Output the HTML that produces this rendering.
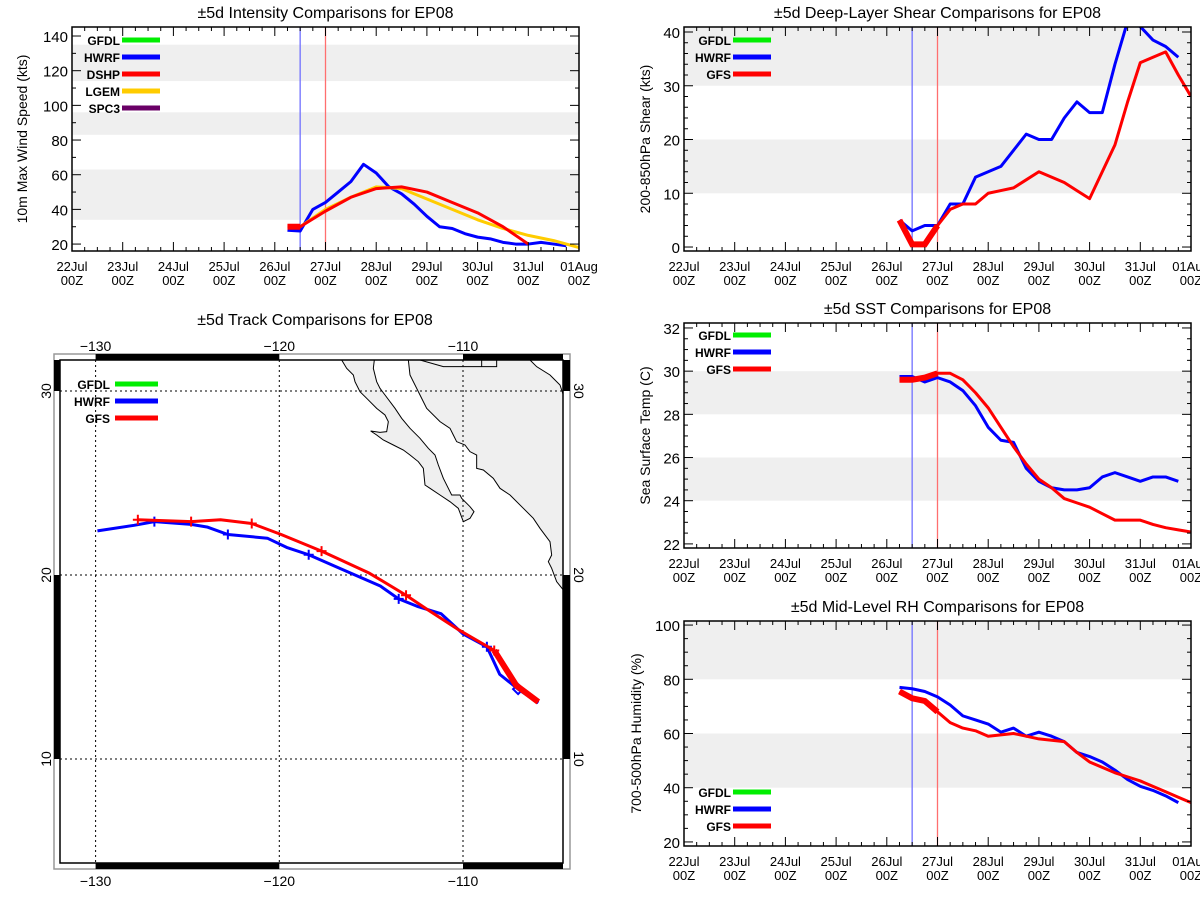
<!DOCTYPE html>
<html><head><meta charset="utf-8"><style>
body{margin:0;background:#fff;width:1200px;height:900px;overflow:hidden}
svg{position:absolute;left:0;top:0;font-family:"Liberation Sans",sans-serif}
</style></head><body>
<svg id="s" width="1200" height="900" viewBox="0 0 1200 900"></svg>
<script>
// ---------- data ----------
const dayLabels=["22Jul","23Jul","24Jul","25Jul","26Jul","27Jul","28Jul","29Jul","30Jul","31Jul","01Aug"];
const sixHourly=[4.25,4.5,4.75,5,5.25,5.5,5.75,6,6.25,6.5,6.75,7,7.25,7.5,7.75,8,8.25,8.5,8.75,9,9.25,9.5,9.75,10];
const intHwrf=[28,27.5,40,44,50,56,66,61,53,49,43,36,30,29,26,24,23,21,20,20,21,20,19];
const dshpTimes=[4.25,4.5,5,5.5,6,6.5,7,7.5,8,8.5,9];
const intDshp=[30,30,39,47,52,53,50,44,38,30,20];
const lgemTimes=[4.25,4.5,5,5.5,6,6.5,7,7.5,8,8.5,9,9.5,10];
const intLgem=[30,30,40,47,53,52,46,40,34,29,25,22,18];
const shearHwrf=[5,3,4,4,8,8,13,14,15,18,21,20,20,24,27,25,25,34,42,41,38.5,37.3,35.3];
const shearGfs=[5,0.5,0.5,4,7,8,8,10,10.5,11,12.5,14,13,12,10.5,9,14,19,27,34.3,35.3,36.3,32,28];
const sstHwrf=[29.75,29.75,29.5,29.7,29.5,29.1,28.4,27.4,26.8,26.7,25.5,24.9,24.6,24.5,24.5,24.6,25.1,25.3,25.1,24.9,25.1,25.1,24.9];
const sstGfs=[29.6,29.6,29.7,29.9,29.9,29.6,29.0,28.3,27.4,26.5,25.7,25.0,24.6,24.1,23.9,23.7,23.4,23.1,23.1,23.1,22.9,22.75,22.65,22.55];
const rhHwrf=[77,76.5,75.5,73.5,70.5,66.5,65,63.5,60.5,62,59,60.5,59,57,53,51.5,49.5,46.5,43,40.5,39,37,34.5];
const rhGfs=[75.5,73,72,68,64,62,61,59,59.5,60,59,58,57.5,57,53,49.5,47.5,45.5,44,42.5,40.5,38.5,36.5,34.5];
const trkHwrfLon=[-105.9,-107.0,-108.0,-108.7,-110,-111.2,-112.5,-113.5,-114.5,-116.8,-118.4,-119.6,-120.65,-122.8,-123.9,-124.8,-126.8,-127.9,-129.9];
const trkHwrfLat=[13.05,13.8,14.6,16.1,16.8,17.9,18.3,18.7,19.4,20.4,21.1,21.5,22.0,22.2,22.6,22.75,22.9,22.7,22.4];
const trkHwrfMarkLon=[-108.7,-113.5,-118.4,-122.8,-126.8];
const trkHwrfMarkLat=[16.1,18.7,21.1,22.2,22.9];
const trkGfsLon=[-105.9,-107.1,-108.3,-110.2,-111.9,-113.1,-115.1,-117.7,-119.9,-121.5,-123.2,-124.8,-127.7];
const trkGfsLat=[13.1,14.0,15.9,17.0,18.1,18.9,20.1,21.3,22.2,22.8,23.0,22.9,23.0];
const trkGfsMarkLon=[-108.3,-113.1,-117.7,-121.5,-124.8,-127.7];
const trkGfsMarkLat=[15.9,18.9,21.3,22.8,22.9,23.0];

const NS="http://www.w3.org/2000/svg";
const S=document.getElementById('s');
function mk(tag,attrs,parent){const e=document.createElementNS(NS,tag);for(const k in attrs)e.setAttribute(k,attrs[k]);(parent||S).appendChild(e);return e;}

function chart(c){
  const g=mk('g',{});
  
  
  const X=d=>c.x0+(c.x1-c.x0)*d/10;
  const Y=v=>c.y1-(v-c.vmin)/(c.vmax-c.vmin)*(c.y1-c.y0);
  c.bands.forEach(b=>{
    const top=Math.max(Y(b[1]),c.y0),bot=Math.min(Y(b[0]),c.y1);
    const r=mk('rect',{x:c.x0,y:top,width:c.x1-c.x0,height:bot-top,fill:'#efefef'},g);
    
    
  });
  const vb=mk('line',{x1:X(4.5),x2:X(4.5),y1:c.y0,y2:c.y1,stroke:'#6f6fff','stroke-width':1.3},g);
  
  
  const vr=mk('line',{x1:X(5),x2:X(5),y1:c.y0,y2:c.y1,stroke:'#ff6f6f','stroke-width':1.3},g);
  
  
  const cp=mk('clipPath',{id:'cp'+c.name},g);mk('rect',{x:c.x0,y:c.y0,width:c.x1-c.x0,height:c.y1-c.y0},cp);
  c.series.forEach(s=>{
    const pts=s.v.map((v,i)=>X(s.t[i])+','+Y(v)).join(' ');
    const p=mk('polyline',{points:pts,fill:'none',stroke:s.col,'stroke-width':3,'stroke-linejoin':'round','clip-path':'url(#cp'+c.name+')'},g);
    
    
    if(s.thick){const n=s.thick;const tp=s.v.slice(0,n).map((v,i)=>X(s.t[i])+','+Y(v)).join(' ');
      const q=mk('polyline',{points:tp,fill:'none',stroke:s.col,'stroke-width':6,'clip-path':'url(#cp'+c.name+')'},g);
      
      }
  });
  const fr=mk('rect',{x:c.x0,y:c.y0,width:c.x1-c.x0,height:c.y1-c.y0,fill:'none',stroke:'#000','stroke-width':1.5},g);
  
  
  for(let d=0;d<=10;d+=0.25){const maj=d%1===0;const L=maj?9:4;
    mk('line',{x1:X(d),x2:X(d),y1:c.y1,y2:c.y1-L,stroke:'#000'},g);
    mk('line',{x1:X(d),x2:X(d),y1:c.y0,y2:c.y0+L,stroke:'#000'},g);}
  dayLabels.forEach((l,i)=>{
    const t=mk('text',{x:X(i),y:c.y1+20,'text-anchor':'middle','font-size':13},g);t.textContent=l;
    
    
    const t2=mk('text',{x:X(i),y:c.y1+34,'text-anchor':'middle','font-size':13},g);t2.textContent='00Z';
    
    
  });
  for(let v=c.ymin;v<=c.ymax+1e-6;v+=c.minor){const maj=Math.abs((v-c.ymin)/c.step-Math.round((v-c.ymin)/c.step))<1e-6;const L=maj?9:4;
    mk('line',{x1:c.x0,x2:c.x0+L,y1:Y(v),y2:Y(v),stroke:'#000'},g);
    mk('line',{x1:c.x1,x2:c.x1-L,y1:Y(v),y2:Y(v),stroke:'#000'},g);
    if(maj){const t=mk('text',{x:c.x0-4,y:Y(v)+6,'text-anchor':'end','font-size':15},g);t.textContent=Math.round(v);
      
      }}
  const tt=mk('text',{x:(c.x0+c.x1)/2,y:c.y0-9,'text-anchor':'middle','font-size':16},g);tt.textContent=c.title;
  
  
  const yt=mk('text',{x:c.ytx,y:(c.y0+c.y1)/2,'text-anchor':'middle','font-size':14,transform:`rotate(-90 ${c.ytx} ${(c.y0+c.y1)/2})`},g);yt.textContent=c.ytitle;
  
  
  c.legend.forEach((l,i)=>{const y=c.ly+i*17;
    const t=mk('text',{x:c.lx,y:y+5,'text-anchor':'end','font-size':12,'font-weight':'bold'},g);t.textContent=l[0];
    
    
    const ln=mk('line',{x1:c.lx+2,x2:c.lx+40,y1:y,y2:y,stroke:l[1],'stroke-width':5},g);
    
    });
}
const G='#00ee00',B='#0000ff',R='#ff0000';
chart({name:'intensity-chart',x0:72,x1:579,y0:27,y1:251,vmin:16,vmax:145.2,ymin:20,ymax:140,step:20,minor:10,
  bands:[[34,63],[83,96],[114,135]],title:'±5d Intensity Comparisons for EP08',ytitle:'10m Max Wind Speed (kts)',ytx:27,
  series:[{id:'hwrf',t:sixHourly,v:intHwrf,col:B},{id:'lgem',t:lgemTimes,v:intLgem,col:'#ffcc00'},{id:'dshp',t:dshpTimes,v:intDshp,col:R,thick:2}],
  legend:[['GFDL',G],['HWRF',B],['DSHP',R],['LGEM','#ffcc00'],['SPC3','#6a0066']],lx:120,ly:40});
chart({name:'shear-chart',x0:684,x1:1191,y0:27,y1:251,vmin:-0.74,vmax:40.93,ymin:0,ymax:40,step:10,minor:2,
  bands:[[10,20],[30,45]],title:'±5d Deep-Layer Shear Comparisons for EP08',ytitle:'200-850hPa Shear (kts)',ytx:650,
  series:[{id:'hwrf',t:sixHourly,v:shearHwrf,col:B},{id:'gfs',t:sixHourly,v:shearGfs,col:R,thick:4}],
  legend:[['GFDL',G],['HWRF',B],['GFS',R]],lx:731,ly:40});
chart({name:'sst-chart',x0:684,x1:1191,y0:323,y1:548,vmin:21.81,vmax:32.23,ymin:22,ymax:32,step:2,minor:0.5,
  bands:[[24,26],[28,30]],title:'±5d SST Comparisons for EP08',ytitle:'Sea Surface Temp (C)',ytx:650,
  series:[{id:'hwrf',t:sixHourly,v:sstHwrf,col:B},{id:'gfs',t:sixHourly,v:sstGfs,col:R,thick:4}],
  legend:[['GFDL',G],['HWRF',B],['GFS',R]],lx:731,ly:335});
chart({name:'rh-chart',x0:684,x1:1191,y0:621,y1:846,vmin:18.5,vmax:101.5,ymin:20,ymax:100,step:20,minor:5,
  bands:[[40,60],[80,105]],title:'±5d Mid-Level RH Comparisons for EP08',ytitle:'700-500hPa Humidity (%)',ytx:641,
  series:[{id:'hwrf',t:sixHourly,v:rhHwrf,col:B},{id:'gfs',t:sixHourly,v:rhGfs,col:R,thick:4}],
  legend:[['GFDL',G],['HWRF',B],['GFS',R]],lx:731,ly:792});

// ---------- track map ----------
(function(){
  const g=mk('g',{});
  
  
  const LX=lon=>463+(lon+110)*18.37, LY=lat=>391-(lat-30)*18.4;
  const IX0=60,IX1=563,IY0=360,IY1=863,OX0=54,OX1=570,OY0=354,OY1=869;
  const cp=mk('clipPath',{id:'mapclip'},g);mk('rect',{x:IX0,y:IY0,width:IX1-IX0,height:IY1-IY0},cp);
  const clipG=mk('g',{'clip-path':'url(#mapclip)'},g);
  const land=mk('g',{transform:'translate(330,355) scale(0.33333)'},clipG);
  const main=mk('polygon',{points:'235,0 235,15 240,60 260,100 270,120 290,160 330,200 360,220 370,240 380,260 405,270 420,290 440,300 440,340 460,345 490,370 510,400 540,420 580,460 610,490 630,520 660,560 665,600 655,620 665,640 680,680 700,705 720,705 720,0',fill:'#efefef',stroke:'#000','stroke-width':3},land);
  
  
  const baja=mk('polygon',{points:'35,15 50,40 70,60 75,80 90,110 110,130 140,160 165,180 175,200 170,230 150,232 122,228 140,240 160,255 190,270 220,285 240,300 265,320 280,340 285,390 300,400 330,420 360,440 385,460 400,500 420,490 432,470 420,455 395,430 390,420 365,420 355,400 340,370 325,330 315,300 295,280 270,250 240,220 215,190 195,160 165,120 150,100 140,80 130,40 133,15 133,0 30,0',fill:'#efefef',stroke:'#000','stroke-width':3},land);
  
  
  mk('polygon',{points:'600,0 600,15 620,35 660,60 690,90 700,120 720,120 720,0',fill:'#fff',stroke:'none'},land);
  mk('polyline',{points:'600,15 620,35 660,60 690,90 700,120',fill:'none',stroke:'#000','stroke-width':3},land);
  mk('polyline',{points:'270,15 340,35 500,35 500,15',fill:'none',stroke:'#000','stroke-width':3},land);
  mk('line',{x1:455,y1:15,x2:455,y2:35,stroke:'#000','stroke-width':3},land);
  [-130,-120,-110].forEach(l=>mk('line',{x1:LX(l),x2:LX(l),y1:IY0,y2:IY1,stroke:'#000','stroke-dasharray':'2,3'},g));
  [30,20,10].forEach(l=>mk('line',{x1:IX0,x2:IX1,y1:LY(l),y2:LY(l),stroke:'#000','stroke-dasharray':'2,3'},g));
  mk('rect',{x:OX0,y:OY0,width:OX1-OX0,height:OY1-OY0,fill:'none',stroke:'#999','stroke-width':1.5},g);
  mk('rect',{x:IX0,y:IY0,width:IX1-IX0,height:IY1-IY0,fill:'none',stroke:'#000','stroke-width':1.5},g);
  [[LX(-130),LX(-120)],[LX(-110),IX1]].forEach(s=>{
    mk('rect',{x:s[0],y:OY0,width:s[1]-s[0],height:IY0-OY0,fill:'#000'},g);
    mk('rect',{x:s[0],y:IY1,width:s[1]-s[0],height:OY1-IY1,fill:'#000'},g);});
  [[IY0,LY(30)],[LY(20),LY(10)]].forEach(s=>{
    mk('rect',{x:OX0,y:s[0],width:IX0-OX0,height:s[1]-s[0],fill:'#000'},g);
    mk('rect',{x:IX1,y:s[0],width:OX1-IX1,height:s[1]-s[0],fill:'#000'},g);});
  [-130,-120,-110].forEach(l=>{
    const a=mk('text',{x:LX(l),y:351,'text-anchor':'middle','font-size':14},g);a.textContent='\u2212'+(-l);
    
    
    const b=mk('text',{x:LX(l),y:886,'text-anchor':'middle','font-size':14},g);b.textContent='\u2212'+(-l);
    
    });
  [30,20,10].forEach(l=>{
    const a=mk('text',{x:51,y:LY(l),'text-anchor':'middle','font-size':14,transform:`rotate(-90 51 ${LY(l)})`},g);a.textContent=l;
    
    
    const b=mk('text',{x:574,y:LY(l),'text-anchor':'middle','font-size':14,transform:`rotate(90 574 ${LY(l)})`},g);b.textContent=l;
    
    });
  function track(lon,lat,mlon,mlat,col,id){
    const p=mk('polyline',{points:lon.map((x,i)=>LX(x)+','+LY(lat[i])).join(' '),fill:'none',stroke:col,'stroke-width':3,'stroke-linejoin':'round'},g);
    
    
    mlon.forEach((x,i)=>{const px=LX(x),py=LY(mlat[i]);
      const m=mk('path',{d:`M${px-5},${py}H${px+5}M${px},${py-5}V${py+5}`,stroke:col,'stroke-width':2},g);
      
      });
  }
  track(trkHwrfLon,trkHwrfLat,trkHwrfMarkLon,trkHwrfMarkLat,B,'hwrf');
  const dx=LX(trkHwrfLon[1]),dy=LY(trkHwrfLat[1]);
  const dm=mk('path',{d:`M${dx-5},${dy}L${dx},${dy-5}L${dx+5},${dy}L${dx},${dy+5}Z`,fill:'none',stroke:B,'stroke-width':2},g);
  
  
  track(trkGfsLon,trkGfsLat,trkGfsMarkLon,trkGfsMarkLat,R,'gfs');
  const th=mk('polyline',{points:trkGfsLon.slice(0,3).map((x,i)=>LX(x)+','+LY(trkGfsLat[i])).join(' '),fill:'none',stroke:R,'stroke-width':6},g);
  
  
  const tt=mk('text',{x:315,y:325,'text-anchor':'middle','font-size':16},g);tt.textContent='±5d Track Comparisons for EP08';
  
  
  [['GFDL',G],['HWRF',B],['GFS',R]].forEach((l,i)=>{const y=384+i*17;
    const t=mk('text',{x:110,y:y+5,'text-anchor':'end','font-size':12,'font-weight':'bold'},g);t.textContent=l[0];
    
    
    const ln=mk('line',{x1:115,x2:158,y1:y,y2:y,stroke:l[1],'stroke-width':5},g);
    
    });
})();
</script>
</body></html>
